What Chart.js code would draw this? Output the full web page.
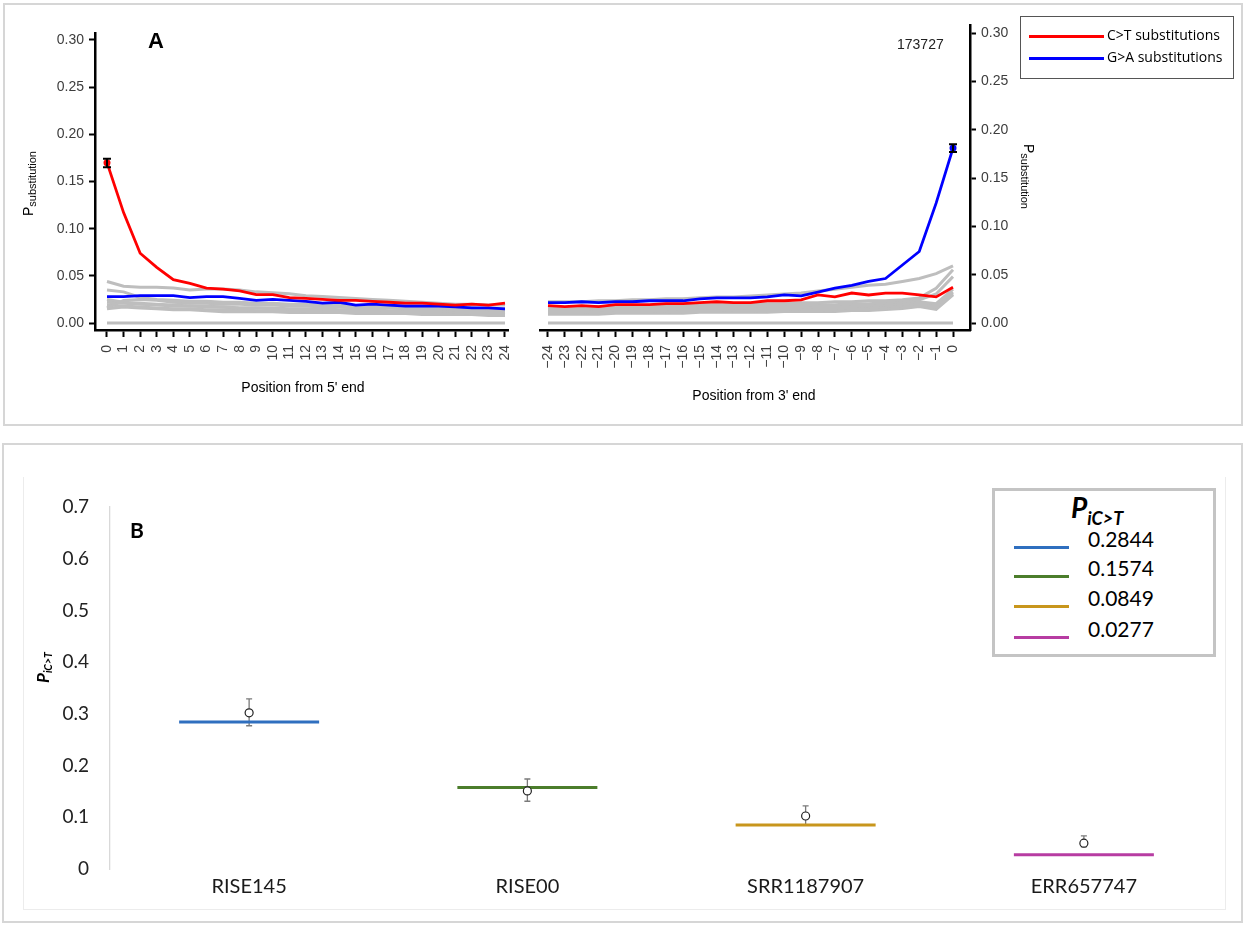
<!DOCTYPE html>
<html>
<head>
<meta charset="utf-8">
<title>Substitution patterns</title>
<script src="https://cdn.jsdelivr.net/npm/chart.js@4.4.1/dist/chart.umd.min.js"></script>
<style>
body { margin:0; background:#fff; }
#page { position:relative; width:1247px; height:928px; overflow:hidden; font-family:"Liberation Sans", Arial, sans-serif; }
.frame { position:absolute; box-sizing:border-box; border:2px solid #d6d6d6; }
.inner { position:absolute; box-sizing:border-box; border:1px solid #ececec; border-top:none; }
canvas { position:absolute; }
.t { position:absolute; white-space:nowrap; line-height:1; }
.rot { transform-origin:0 0; }
.lg1 { position:absolute; left:1020px; top:16px; width:214px; height:63px; box-sizing:border-box; border:1px solid #555; background:#fff; }
.lg2 { position:absolute; left:992px; top:488px; width:224px; height:169px; box-sizing:border-box; border:3px solid #c4c4c4; background:#fff; }
.sw { position:absolute; height:3px; }
</style>
</head>
<body>
<div id="page">
  <div class="frame" style="left:3px;top:3px;width:1240px;height:423px;"></div>
  <div class="frame" style="left:2px;top:443px;width:1241px;height:480px;"></div>
  <div class="inner" style="left:23px;top:477px;width:1203px;height:433px;"></div>

  <canvas id="c5" width="520" height="420" style="left:0;top:0;"></canvas>
  <canvas id="c3" width="520" height="420" style="left:520px;top:0;"></canvas>
  <canvas id="cB" width="1240" height="475" style="left:0;top:445px;"></canvas>

  <div class="t" style="left:148px;top:30px;font-size:22px;font-weight:bold;">A</div>
  <div class="t" style="left:897px;top:37px;font-size:14px;color:#222;">173727</div>
  <div class="t" style="left:303px;top:380px;font-size:14px;transform:translateX(-50%);">Position from 5' end</div>
  <div class="t" style="left:754px;top:388px;font-size:14px;transform:translateX(-50%);">Position from 3' end</div>
  <div class="t rot" style="left:21px;top:216px;font-size:14px;line-height:14px;transform:rotate(-90deg);">P<span style="font-size:11px;position:relative;top:3px;">substitution</span></div>
  <div class="t rot" style="left:1036px;top:144px;font-size:14px;line-height:14px;transform:rotate(90deg);">P<span style="font-size:11px;position:relative;top:3px;">substitution</span></div>

  <div class="lg1">
    <div class="sw" style="left:8px;top:18px;width:75px;background:#ff0000;"></div>
    <div class="sw" style="left:8px;top:40px;width:75px;background:#0000ff;"></div>
    <div class="t" style="left:86px;top:11px;font-family:'Open Sans';font-size:14px;">C&gt;T substitutions</div>
    <div class="t" style="left:86px;top:33px;font-family:'Open Sans';font-size:14px;">G&gt;A substitutions</div>
  </div>

  <div class="t" style="left:130px;top:519px;font-family:Lato;font-size:21px;font-weight:bold;">B</div>
  <div class="t rot" style="left:34px;top:683px;font-family:Lato;font-size:17px;line-height:17px;font-weight:bold;font-style:italic;transform:rotate(-90deg);">P<span style="font-size:10.5px;position:relative;top:3px;">iC&gt;T</span></div>

  <div class="lg2" id="legB">
    <div class="t" style="left:76px;top:2px;font-family:Lato;font-size:28px;font-weight:bold;font-style:italic;">P<span style="font-size:18px;position:relative;top:7px;">iC&gt;T</span></div>
  </div>
</div>

<script>
// positions along the read
const pos5 = [0,1,2,3,4,5,6,7,8,9,10,11,12,13,14,15,16,17,18,19,20,21,22,23,24];
const pos3 = [-24,-23,-22,-21,-20,-19,-18,-17,-16,-15,-14,-13,-12,-11,-10,-9,-8,-7,-6,-5,-4,-3,-2,-1,0];
const yTicksA = [0, 0.05, 0.10, 0.15, 0.20, 0.25, 0.30];

// 5' end
const ct5 = [0.170,0.117,0.074,0.059,0.046,0.042,0.037,0.036,0.034,0.030,0.030,0.027,0.026,0.025,0.024,0.024,0.023,0.022,0.021,0.021,0.020,0.019,0.020,0.019,0.021];
const ga5 = [0.028,0.028,0.029,0.029,0.029,0.027,0.028,0.028,0.026,0.024,0.025,0.024,0.023,0.021,0.022,0.019,0.020,0.019,0.018,0.018,0.018,0.017,0.016,0.016,0.015];
const ct5Err = [0.165, 0.174];

// other substitution types, 5' end
const bg5a = [0.044,0.039,0.038,0.038,0.037,0.035,0.036,0.036,0.035,0.033,0.032,0.031,0.029,0.028,0.027,0.026,0.025,0.024,0.023,0.022,0.021,0.020,0.020,0.019,0.019];
const bg5b = [0.035,0.033,0.027,0.025,0.024,0.023,0.023,0.022,0.022,0.021,0.021,0.020,0.020,0.019,0.019,0.018,0.018,0.017,0.017,0.017,0.016,0.016,0.016,0.015,0.015];
const bg5c = [0.016,0.024,0.025,0.024,0.022,0.021,0.021,0.020,0.020,0.019,0.019,0.018,0.018,0.017,0.017,0.016,0.016,0.016,0.015,0.015,0.015,0.014,0.014,0.014,0.013];
const bg5d = [0.022,0.021,0.020,0.019,0.018,0.018,0.017,0.017,0.016,0.016,0.016,0.015,0.015,0.015,0.014,0.014,0.014,0.013,0.013,0.013,0.013,0.012,0.012,0.012,0.012];
const bg5e = [0.019,0.018,0.017,0.016,0.015,0.015,0.014,0.014,0.014,0.013,0.013,0.012,0.013,0.013,0.012,0.012,0.012,0.012,0.011,0.011,0.011,0.011,0.010,0.010,0.010];
const bg5f = [0.025,0.022,0.021,0.020,0.019,0.018,0.018,0.017,0.016,0.016,0.015,0.014,0.014,0.013,0.013,0.013,0.012,0.012,0.012,0.011,0.011,0.010,0.010,0.010,0.009];
const bg5g = [0.015,0.017,0.016,0.015,0.014,0.014,0.013,0.012,0.012,0.012,0.012,0.011,0.011,0.011,0.011,0.010,0.010,0.010,0.010,0.009,0.009,0.009,0.009,0.008,0.008];
const bg5h = [0,0,0,0,0,0,0,0,0,0,0,0,0,0,0,0,0,0,0,0,0,0,0,0,0];

// 3' end
const ct3 = [0.018,0.017,0.018,0.017,0.019,0.019,0.019,0.020,0.020,0.021,0.022,0.021,0.021,0.023,0.023,0.024,0.029,0.027,0.031,0.029,0.031,0.031,0.029,0.027,0.037];
const ga3 = [0.021,0.021,0.022,0.021,0.022,0.022,0.023,0.023,0.023,0.025,0.026,0.026,0.026,0.027,0.029,0.028,0.032,0.036,0.039,0.043,0.046,0.060,0.074,0.124,0.181];
const ga3Err = [0.177, 0.185];

const bg3a = [0.022,0.022,0.022,0.023,0.023,0.024,0.024,0.025,0.025,0.026,0.027,0.027,0.028,0.029,0.030,0.031,0.033,0.035,0.037,0.039,0.040,0.043,0.046,0.051,0.059];
const bg3b = [0.016,0.016,0.016,0.017,0.017,0.017,0.018,0.018,0.018,0.019,0.019,0.019,0.020,0.020,0.020,0.021,0.021,0.022,0.022,0.023,0.023,0.024,0.026,0.036,0.055];
const bg3c = [0.014,0.014,0.014,0.015,0.015,0.015,0.016,0.016,0.016,0.017,0.017,0.017,0.017,0.018,0.018,0.018,0.019,0.019,0.020,0.020,0.021,0.022,0.024,0.030,0.048];
const bg3d = [0.013,0.013,0.013,0.013,0.014,0.014,0.014,0.014,0.015,0.015,0.015,0.015,0.016,0.016,0.016,0.016,0.017,0.017,0.017,0.018,0.019,0.020,0.022,0.020,0.035];
const bg3e = [0.011,0.011,0.011,0.012,0.012,0.012,0.012,0.013,0.013,0.013,0.013,0.014,0.014,0.014,0.014,0.015,0.015,0.015,0.016,0.016,0.017,0.018,0.020,0.018,0.032];
const bg3f = [0.010,0.010,0.010,0.010,0.011,0.011,0.011,0.011,0.012,0.012,0.012,0.012,0.012,0.013,0.013,0.013,0.013,0.014,0.014,0.014,0.015,0.016,0.018,0.016,0.030];
const bg3g = [0.009,0.009,0.009,0.009,0.010,0.010,0.010,0.010,0.010,0.011,0.011,0.011,0.011,0.011,0.012,0.012,0.012,0.012,0.013,0.013,0.014,0.015,0.017,0.014,0.029];
const bg3h = [0,0,0,0,0,0,0,0,0,0,0,0,0,0,0,0,0,0,0,0,0,0,0,0,0];

// panel B
const samples = ["RISE145", "RISE00", "SRR1187907", "ERR657747"];
const pict = [0.2844, 0.1574, 0.0849, 0.0277];
const estimate = [0.302, 0.151, 0.1025, 0.050];
const estLow = [0.277, 0.131, 0.085, 0.043];
const estHigh = [0.329, 0.174, 0.122, 0.064];
const yTicksB = [0, 0.1, 0.2, 0.3, 0.4, 0.5, 0.6, 0.7];

const sampleColors = ["#2f6fbf", "#4b7d2b", "#c8961c", "#b73ca2"];

const errorBars = {
  id: 'errorBars',
  beforeDatasetsDraw(chart, args, o) { if (!o.onTop) drawBars(chart, o); },
  afterDatasetsDraw(chart, args, o) { if (o.onTop) drawBars(chart, o); }
};

function drawBars(chart, o){
  const ctx = chart.ctx, xs = chart.scales.x, ys = chart.scales.y;
  ctx.save();
  ctx.strokeStyle = o.color;
  ctx.lineWidth = o.width;
  o.bars.forEach(b => {
    const x = xs.getPixelForValue(b.x);
    const y1 = ys.getPixelForValue(b.low), y2 = ys.getPixelForValue(b.high);
    ctx.beginPath();
    ctx.moveTo(x, y1); ctx.lineTo(x, y2);
    ctx.moveTo(x - o.cap, y1); ctx.lineTo(x + o.cap, y1);
    ctx.moveTo(x - o.cap, y2); ctx.lineTo(x + o.cap, y2);
    ctx.stroke();
  });
  ctx.restore();
}

function pts(xs, ys){ return xs.map((x,i) => ({x: x, y: ys[i]})); }

function posLabel(v){ return v < 0 ? '\u2212' + (-v) : String(v); }

function buildPanel(id, xv, red, blue, greys, markAt, err, errColor, sc){
  const markR = c => c.raw && c.raw.x === markAt ? 3.5 : 0;
  const sets = [];
  sets.push({ data: pts(xv, red), borderColor:'#ff0000', backgroundColor:'#ff0000', borderWidth:2.8,
    pointRadius: errColor === 'red' ? markR : 0, pointBorderWidth:0 });
  sets.push({ data: pts(xv, blue), borderColor:'#0000ff', backgroundColor:'#0000ff', borderWidth:2.8,
    pointRadius: errColor === 'blue' ? markR : 0, pointBorderWidth:0 });
  greys.forEach(g => sets.push({ data: pts(xv, g), borderColor:'#bebebe', borderWidth:3, pointRadius:0 }));

  const tickFont = { family:'Liberation Sans', size:14 };
  return new Chart(document.getElementById(id), {
    type: 'line',
    data: { datasets: sets },
    options: {
      responsive:false, animation:false, events:[],
      layout: { autoPadding:false, padding: sc.pad },
      plugins: {
        legend: { display:false }, tooltip: { enabled:false },
        errorBars: { onTop:true, color:'#000', width:2, cap:4, bars:[{ x: markAt, low: err[0], high: err[1] }] }
      },
      scales: {
        x: {
          type:'linear', min: sc.xMin, max: sc.xMax,
          afterBuildTicks: s => { s.ticks = xv.map(v => ({ value: v })); },
          afterFit: s => { s.height = 90; s.paddingLeft = 0; s.paddingRight = 0; },
          border: { display:true, color:'#000', width:2.5 },
          grid: { drawOnChartArea:false, drawTicks:true, tickLength:7, tickColor:'#000', tickWidth:2 },
          ticks: { autoSkip:false, minRotation:90, maxRotation:90, padding:8, color:'#3d3d3d', font: tickFont, callback: posLabel }
        },
        y: {
          position: sc.yPos, min: sc.yMin, max: sc.yMax,
          afterBuildTicks: s => { s.ticks = yTicksA.map(v => ({ value: v })); },
          afterFit: s => { s.width = sc.yW; s.paddingTop = 0; s.paddingBottom = 0; },
          border: { display:true, color:'#000', width:2.5 },
          grid: { drawOnChartArea:false, drawTicks:true, tickLength:6, tickColor:'#000', tickWidth:2 },
          ticks: { padding:5, color:'#3d3d3d', font: tickFont, callback: v => v.toFixed(2) }
        }
      }
    },
    plugins: [errorBars]
  });
}

buildPanel('c5', pos5, ct5, ga5, [bg5a,bg5b,bg5c,bg5d,bg5e,bg5f,bg5g,bg5h], 0, ct5Err, 'red',
  { pad:{ top:33, right:12, left:0, bottom:0 }, xMin:-0.7236, xMax:24.181, yMin:-0.00742, yMax:0.30742, yPos:'left', yW:95 });

buildPanel('c3', pos3, ct3, ga3, [bg3a,bg3b,bg3c,bg3d,bg3e,bg3f,bg3g,bg3h], 0, ga3Err, 'blue',
  { pad:{ top:25, right:0, left:20, bottom:0 }, xMin:-24.474, xMax:1.007, yMin:-0.00724, yMax:0.30828, yPos:'right', yW:70 });

// legend of panel B
const legB = document.getElementById('legB');
const rowTop = [41, 70, 100, 131];
pict.forEach((v,i) => {
  legB.innerHTML += `<div class="sw" style="left:19px;top:${rowTop[i]+14}px;width:55px;background:${sampleColors[i]};"></div>` +
    `<div class="t" style="left:93px;top:${rowTop[i]-4}px;font-family:Lato;font-size:21px;">${v.toFixed(4)}</div>`;
});

new Chart(document.getElementById('cB'), {
  type: 'line',
  data: {
    labels: samples,
    datasets: [
      { data: estimate, showLine:false, pointStyle:'circle', pointRadius:4, pointHoverRadius:4,
        pointBorderWidth:1.2, pointBorderColor:'#222', pointBackgroundColor:'#fff' },
      { data: pict, showLine:false, pointStyle:'line', pointRadius:70, pointHoverRadius:70,
        pointBorderWidth:3, pointBorderColor: sampleColors }
    ]
  },
  options: {
    responsive:false, animation:false, events:[],
    layout: { autoPadding:false, padding: { top:62, right:17, left:0, bottom:0 } },
    plugins: {
      legend: { display:false }, tooltip: { enabled:false },
      errorBars: { onTop:false, color:'#7a7a7a', width:1.3, cap:3,
        bars: estimate.map((v,i) => ({ x:i, low: estLow[i], high: estHigh[i] })) }
    },
    scales: {
      x: {
        offset:true,
        afterFit: s => { s.height = 51; s.paddingLeft = 0; s.paddingRight = 0; },
        border: { display:false },
        grid: { display:false, drawTicks:false, offset:true },
        ticks: { padding:6, color:'#1a1a1a', font:{ family:'Lato', size:20 } }
      },
      y: {
        min:0, max:0.7,
        afterBuildTicks: s => { s.ticks = yTicksB.map(v => ({ value: v })); },
        afterFit: s => { s.width = 110; s.paddingTop = 0; s.paddingBottom = 0; },
        border: { display:true, color:'#d9d9d9', width:1.3 },
        grid: { display:false, drawTicks:false },
        ticks: { padding:21, color:'#222', font:{ family:'Lato', size:19 }, callback: v => v === 0 ? '0' : v.toFixed(1) }
      }
    }
  },
  plugins: [errorBars]
});
</script>
</body>
</html>
